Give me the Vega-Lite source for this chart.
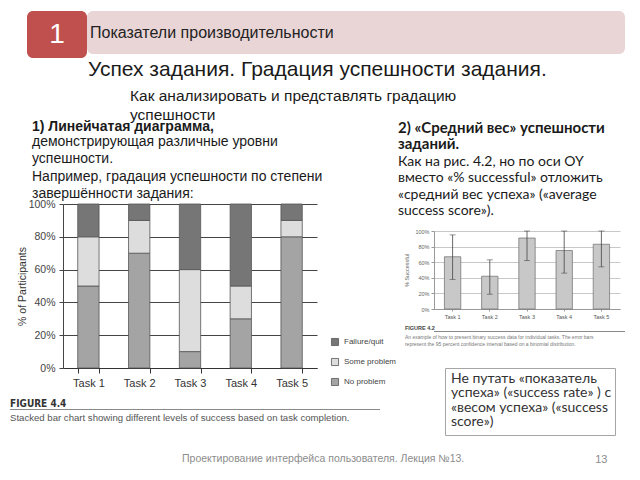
{
  "$schema": "https://vega.github.io/schema/vega-lite/v6.json",
  "background": "white",
  "padding": {"left": 10, "top": 11, "right": 5, "bottom": 5},
  "config": {
    "view": {"stroke": null},
    "concat": {"spacing": 0},
    "font": "Liberation Sans",
    "title": {"fontWeight": "normal", "color": "#1a1a1a", "subtitleColor": "#1a1a1a"}
  },
  "datasets": {
    "levels": [
      {"task": "Task 1", "level": "No problem", "rank": 1, "pct": 50},
      {"task": "Task 1", "level": "Some problem", "rank": 2, "pct": 30},
      {"task": "Task 1", "level": "Failure/quit", "rank": 3, "pct": 20},
      {"task": "Task 2", "level": "No problem", "rank": 1, "pct": 70},
      {"task": "Task 2", "level": "Some problem", "rank": 2, "pct": 20},
      {"task": "Task 2", "level": "Failure/quit", "rank": 3, "pct": 10},
      {"task": "Task 3", "level": "No problem", "rank": 1, "pct": 10},
      {"task": "Task 3", "level": "Some problem", "rank": 2, "pct": 50},
      {"task": "Task 3", "level": "Failure/quit", "rank": 3, "pct": 40},
      {"task": "Task 4", "level": "No problem", "rank": 1, "pct": 30},
      {"task": "Task 4", "level": "Some problem", "rank": 2, "pct": 20},
      {"task": "Task 4", "level": "Failure/quit", "rank": 3, "pct": 50},
      {"task": "Task 5", "level": "No problem", "rank": 1, "pct": 80},
      {"task": "Task 5", "level": "Some problem", "rank": 2, "pct": 10},
      {"task": "Task 5", "level": "Failure/quit", "rank": 3, "pct": 10}
    ],
    "legendItems": [
      {"level": "Failure/quit"},
      {"level": "Some problem"},
      {"level": "No problem"}
    ],
    "rates": [
      {"task": "Task 1", "rate": 67, "lo": 38, "hi": 95},
      {"task": "Task 2", "rate": 42, "lo": 19, "hi": 63},
      {"task": "Task 3", "rate": 91, "lo": 62, "hi": 100},
      {"task": "Task 4", "rate": 75, "lo": 46, "hi": 100},
      {"task": "Task 5", "rate": 83, "lo": 54, "hi": 100}
    ]
  },
  "title": {"text": "Проектирование интерфейса пользователя. Лекция №13.", "orient": "bottom", "anchor": "start", "dx": 172, "offset": -11, "fontSize": 10.5, "color": "#8c8c8c"},
  "spacing": 9,
  "vconcat": [
    {
      "spacing": 0,
      "title": {"text": "Успех задания. Градация успешности задания.", "orient": "bottom", "anchor": "start", "dx": 78, "offset": 1, "fontSize": 21},
      "hconcat": [
        {"width": 17, "height": 47, "data": {"values": []}, "mark": "rule", "encoding": {}},
        {
          "width": 60, "height": 47,
          "view": {"fill": "#c0504d", "cornerRadius": 6, "stroke": null},
          "data": {"values": [{"n": "1"}]},
          "mark": {"type": "text", "fontSize": 28, "color": "white"},
          "encoding": {"text": {"field": "n"}}
        },
        {
          "width": 538, "height": 43,
          "view": {"fill": "#e9d5d6", "cornerRadius": 6, "stroke": null},
          "title": {"text": "Показатели производительности", "anchor": "start", "orient": "top", "offset": -30, "dx": 3, "fontSize": 16, "color": "#222"},
          "data": {"values": []},
          "mark": "rule",
          "encoding": {}
        }
      ]
    },
    {
      "title": {"text": ["Как анализировать и представлять градацию", "успешности"], "anchor": "start", "dx": 120, "offset": -3, "fontSize": 15.5, "lineHeight": 18.5},
      "spacing": 0,
      "hconcat": [
        {
          "title": {
            "text": "1) Линейчатая диаграмма,",
            "subtitle": ["демонстрирующая различные уровни", "успешности.", "Например, градация успешности по степени", "завершённости задания:"],
            "anchor": "start", "dx": 22, "offset": -2,
            "fontSize": 14, "fontWeight": "bold",
            "subtitleFontSize": 14, "subtitleLineHeight": 17.3, "subtitlePadding": 1, "subtitleColor": "#1a1a1a"
          },
          "vconcat": [
            {
              "title": {"text": "Stacked bar chart showing different levels of success based on task completion.", "orient": "bottom", "anchor": "start", "offset": 3, "fontSize": 9.6, "color": "#555"},
              "spacing": 0,
              "vconcat": [
                {
                  "title": {"text": "FIGURE 4.4", "orient": "bottom", "anchor": "start", "offset": 7, "fontSize": 10, "fontWeight": "bold", "font": "DejaVu Sans Condensed", "color": "#333"},
                  "spacing": 0,
                  "hconcat": [
                    {"width": 7, "height": 1, "data": {"values": []}, "mark": "rule", "encoding": {}},
                    {
                      "width": 254, "height": 164,
                      "data": {"name": "levels"},
                      "mark": {"type": "bar", "stroke": "#555", "strokeWidth": 0.8},
                      "encoding": {
                        "x": {
                          "field": "task", "type": "nominal", "title": null,
                          "scale": {"paddingInner": 0.58, "paddingOuter": 0.29},
                          "axis": {"labelAngle": 0, "labelFontSize": 11, "labelColor": "#333", "tickBand": "extent", "tickSize": 5, "tickColor": "#333", "domainColor": "#333", "labelPadding": 4}
                        },
                        "y": {
                          "field": "pct", "type": "quantitative", "stack": "zero",
                          "scale": {"domain": [0, 100]},
                          "axis": {"title": "% of Participants", "values": [0, 20, 40, 60, 80, 100], "labelExpr": "datum.value + '%'", "gridColor": "#444", "labelFontSize": 10.5, "labelColor": "#444", "labelPadding": 4, "titleFontSize": 10.5, "titleFontWeight": "normal", "titleColor": "#333", "tickColor": "#444", "domainColor": "#444", "tickSize": 4, "titlePadding": 1}
                        },
                        "color": {
                          "field": "level", "type": "nominal",
                          "scale": {"domain": ["Failure/quit", "Some problem", "No problem"], "range": ["#767676", "#dddddd", "#a4a4a4"]},
                          "legend": null
                        },
                        "order": {"field": "rank", "type": "quantitative"}
                      }
                    },
                    {
                      "spacing": 0,
                      "vconcat": [
                        {"width": 1, "height": 128, "data": {"values": []}, "mark": "rule", "encoding": {}},
                        {
                          "width": 36, "height": 60,
                          "data": {"name": "legendItems"},
                          "encoding": {
                            "y": {"field": "level", "type": "nominal", "sort": null, "axis": null}
                          },
                          "layer": [
                            {
                              "mark": {"type": "point", "shape": "square", "filled": true, "size": 50, "stroke": "#555", "strokeWidth": 0.8, "opacity": 1},
                              "encoding": {
                                "color": {"field": "level", "type": "nominal", "scale": {"domain": ["Failure/quit", "Some problem", "No problem"], "range": ["#767676", "#dddddd", "#a4a4a4"]}, "legend": null}
                              }
                            },
                            {
                              "mark": {"type": "text", "align": "left", "dx": 9, "fontSize": 8, "color": "#444"},
                              "encoding": {"text": {"field": "level"}}
                            }
                          ]
                        }
                      ]
                    }
                  ]
                },
                {"width": 370, "height": 1, "view": {"fill": "#8a8a8a", "stroke": null}, "data": {"values": []}, "mark": "rule", "encoding": {}}
              ]
            }
          ]
        },
        {
          "title": {
            "text": ["2) «Средний вес» успешности", "заданий."],
            "subtitle": ["Как на рис. 4.2, но по оси OY", "вместо «% successful» отложить", "«средний вес успеха» («average", "success score»)."],
            "anchor": "start", "dx": -7, "offset": -14,
            "font": "Lato", "fontSize": 15, "fontWeight": "bold", "lineHeight": 16,
            "subtitleFont": "Lato", "subtitleFontSize": 14, "subtitleLineHeight": 16.5, "subtitlePadding": 3, "subtitleColor": "#1a1a1a"
          },
          "vconcat": [
            {"width": 1, "height": 25, "data": {"values": []}, "mark": "rule", "encoding": {}},
            {
              "title": {"text": ["An example of how to present binary success data for individual tasks. The error bars", "represent the 95 percent confidence interval based on a binomial distribution."], "orient": "bottom", "anchor": "start", "offset": 3, "fontSize": 5, "lineHeight": 6.5, "color": "#777"},
              "spacing": 0,
              "vconcat": [
                {
                  "width": 186, "height": 78,
                  "data": {"name": "rates"},
                  "title": {"text": "FIGURE 4.2", "orient": "bottom", "anchor": "start", "offset": 6, "fontSize": 5.5, "fontWeight": "bold", "color": "#444"},
                  "encoding": {
                    "x": {
                      "field": "task", "type": "nominal", "title": null,
                      "scale": {"paddingInner": 0.56, "paddingOuter": 0.28},
                      "axis": {"labelAngle": 0, "labelFontSize": 5.5, "labelColor": "#555", "domainColor": "#999", "tickSize": 2, "tickColor": "#999", "labelPadding": 3}
                    }
                  },
                  "layer": [
                    {
                      "mark": {"type": "bar", "fill": "#c8c8c8", "stroke": "#6b6b6b", "strokeWidth": 0.7},
                      "encoding": {
                        "y": {
                          "field": "rate", "type": "quantitative", "title": "% Successful",
                          "scale": {"domain": [0, 100]},
                          "axis": {"title": "% Successful", "values": [0, 20, 40, 60, 80, 100], "labelExpr": "datum.value + '%'", "labelFontSize": 5.5, "labelColor": "#666", "gridColor": "#c8c8c8", "domainColor": "#999", "tickSize": 3, "tickColor": "#999", "titleFontSize": 5.5, "titleFontWeight": "normal", "titleColor": "#666", "titlePadding": 5}
                        }
                      }
                    },
                    {
                      "mark": {"type": "errorbar", "ticks": {"size": 6}, "color": "#444", "thickness": 0.8},
                      "encoding": {
                        "y": {
                          "field": "lo", "type": "quantitative", "title": "% Successful",
                          "scale": {"domain": [0, 100]},
                          "axis": {"title": "% Successful", "values": [0, 20, 40, 60, 80, 100], "labelExpr": "datum.value + '%'", "labelFontSize": 5.5, "labelColor": "#666", "gridColor": "#c8c8c8", "domainColor": "#999", "tickSize": 3, "tickColor": "#999", "titleFontSize": 5.5, "titleFontWeight": "normal", "titleColor": "#666", "titlePadding": 5}
                        },
                        "y2": {"field": "hi"}
                      }
                    }
                  ]
                },
                {"width": 191, "height": 1, "view": {"fill": "#8a8a8a", "stroke": null}, "data": {"values": []}, "mark": "rule", "encoding": {}}
              ]
            },
            {"width": 1, "height": 20, "data": {"values": []}, "mark": "rule", "encoding": {}},
            {
              "title": {"text": "13", "orient": "bottom", "anchor": "end", "dx": -8, "offset": 18, "fontSize": 11, "color": "#8c8c8c"},
              "spacing": 0,
              "hconcat": [
                {"width": 10, "height": 30, "data": {"values": []}, "mark": "rule", "encoding": {}},
                {
                  "width": 170, "height": 67,
                  "view": {"stroke": "#a6a6a6", "strokeWidth": 1},
                  "title": {"text": ["Не путать «показатель", "успеха» («success rate» ) с", "«весом успеха» («success", "score»)"], "anchor": "start", "orient": "top", "offset": -61, "dx": 6, "font": "Lato", "fontSize": 14, "lineHeight": 14.5, "color": "#333"},
                  "data": {"values": []},
                  "mark": "rule",
                  "encoding": {}
                }
              ]
            }
          ]
        }
      ]
    }
  ]
}
